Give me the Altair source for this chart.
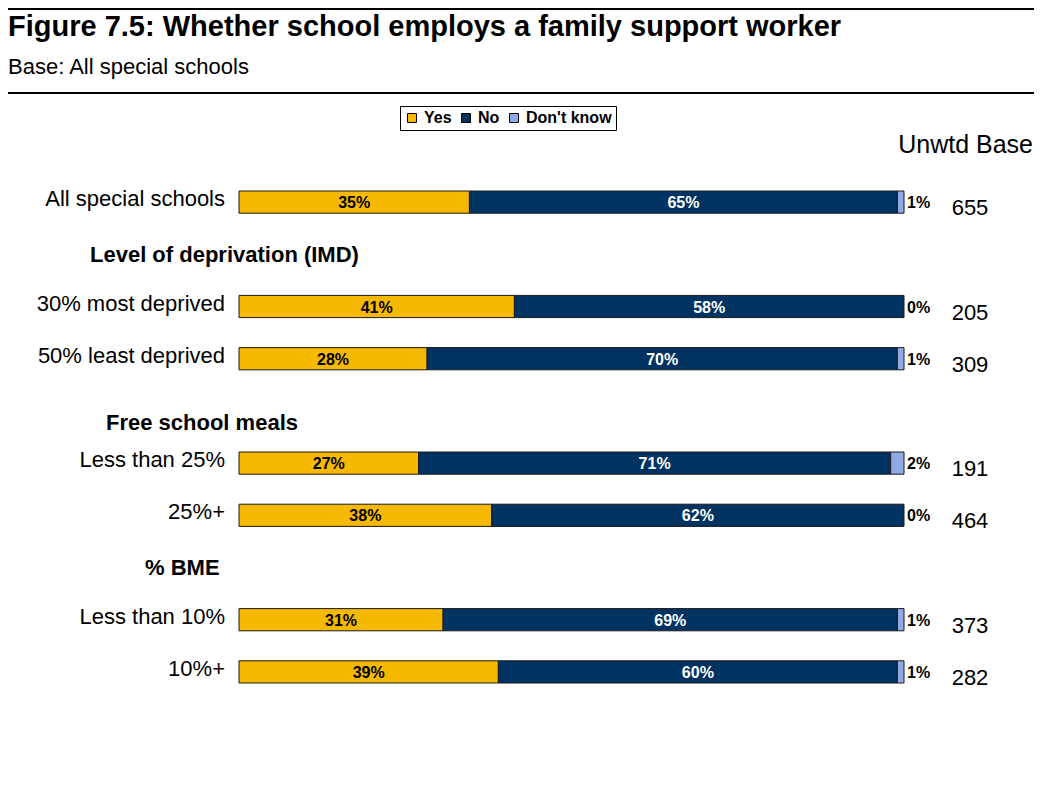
import altair as alt
import pandas as pd

# ---- data ----
groups = ["All special schools", "30% most deprived", "50% least deprived",
          "Less than 25%", "25%+", "Less than 10%", "10%+"]
yes = [35, 41, 28, 27, 38, 31, 39]
no = [65, 58, 70, 71, 62, 69, 60]
dont_know = [1, 0, 1, 2, 0, 1, 1]
unwtd_base = [655, 205, 309, 191, 464, 373, 282]
responses = ["Yes", "No", "Don't know"]
colors = ["#F7B800", "#003361", "#8FA8E6"]
headings = ["Level of deprivation (IMD)", "Free school meals", "% BME"]
title_text = "Figure 7.5: Whether school employs a family support worker"
subtitle_text = "Base: All special schools"

# row order (headings occupy their own rows)
rows = [groups[0], headings[0], groups[1], groups[2], headings[1],
        groups[3], groups[4], headings[2], groups[5], groups[6]]

FONT = "Liberation Sans"

long = pd.DataFrame({
    "group": groups * 3,
    "response": ["Yes"] * 7 + ["No"] * 7 + ["Don't know"] * 7,
    "value": yes + no + dont_know,
    "order": [0] * 7 + [1] * 7 + [2] * 7,
})
basedf = pd.DataFrame({"group": groups, "base": unwtd_base})

W, H = 665, 522
yscale = alt.Scale(domain=rows, paddingInner=30 / 52.2, paddingOuter=15 / 52.2)
xscale = alt.Scale(domain=[0, 1])

base = (
    alt.Chart(long)
    .transform_joinaggregate(total="sum(value)", groupby=["group"])
    .transform_calculate(pct="datum.value / datum.total",
                         label="datum.value + '%'")
    .transform_window(cum="sum(pct)", groupby=["group"],
                      sort=[alt.SortField("order")], frame=[None, 0])
    .transform_calculate(start="datum.cum - datum.pct",
                         mid="datum.cum - datum.pct / 2")
)

Y = alt.Y("group:N", scale=yscale, axis=None)

bars = base.transform_filter("datum.value > 0").mark_bar(
    stroke="#1a1a1a", strokeWidth=1
).encode(
    x=alt.X("start:Q", scale=xscale, axis=None),
    x2="cum:Q",
    y=Y,
    color=alt.Color(
        "response:N",
        scale=alt.Scale(domain=responses, range=colors),
        legend=alt.Legend(
            title=None, orient="none", legendX=161, legendY=-70,
            direction="horizontal", strokeColor="black", fillColor="white",
            padding=4, symbolType="square", symbolSize=81,
            symbolStrokeColor="black", symbolStrokeWidth=1,
            labelFontSize=16, labelFontWeight="bold", labelFont=FONT,
            labelColor="black", labelOffset=4, columnPadding=6,
        ),
    ),
)

yes_lbl = base.transform_filter("datum.response == 'Yes'").mark_text(
    fontSize=16, fontWeight="bold", color="black", baseline="middle", dy=1, font=FONT
).encode(x=alt.X("mid:Q", scale=xscale, axis=None), y=Y, text="label:N")

no_lbl = base.transform_filter("datum.response == 'No'").mark_text(
    fontSize=16, fontWeight="bold", color="white", baseline="middle", dy=1, font=FONT
).encode(x=alt.X("mid:Q", scale=xscale, axis=None), y=Y, text="label:N")

dk_lbl = base.transform_filter("datum.response == \"Don't know\"").mark_text(
    fontSize=16, fontWeight="bold", color="black", baseline="middle", align="left",
    dx=3, dy=1, font=FONT
).encode(x=alt.X("cum:Q", scale=xscale, axis=None), y=Y, text="label:N")

cat_lbl = alt.Chart(basedf).mark_text(
    fontSize=22, align="right", baseline="middle", dy=-3, color="black", font=FONT
).encode(x=alt.value(-14), y=Y, text="group:N")

base_lbl = alt.Chart(basedf).mark_text(
    fontSize=22, align="center", baseline="middle", dy=6, color="black", font=FONT
).encode(x=alt.value(731), y=Y, text="base:Q")

head_layers = []
for txt, hx, hdy in zip(headings, [-149, -133, -94], [1, 12, 0]):
    head_layers.append(
        alt.Chart(pd.DataFrame({"h": [txt]})).mark_text(
            fontSize=22, fontWeight="bold", align="left", baseline="middle",
            dy=hdy, color="black", font=FONT
        ).encode(x=alt.value(hx), y=alt.Y("h:N", scale=yscale, axis=None), text="h:N")
    )

one = pd.DataFrame({"k": [0]})
title = alt.Chart(pd.DataFrame({"t": [title_text]})).mark_text(
    fontSize=29, fontWeight="bold", align="left", baseline="alphabetic", color="black", font=FONT
).encode(x=alt.value(-231), y=alt.value(-140), text="t:N")
subtitle = alt.Chart(pd.DataFrame({"t": [subtitle_text]})).mark_text(
    fontSize=22, align="left", baseline="alphabetic", color="black", font=FONT
).encode(x=alt.value(-231), y=alt.value(-102), text="t:N")
unwtd = alt.Chart(pd.DataFrame({"t": ["Unwtd Base"]})).mark_text(
    fontSize=25, align="right", baseline="alphabetic", color="black", font=FONT
).encode(x=alt.value(794), y=alt.value(-23), text="t:N")

rule_top = alt.Chart(one).mark_rule(color="black", strokeWidth=2).encode(
    x=alt.value(-231), x2=alt.value(795), y=alt.value(-167))
rule_mid = alt.Chart(one).mark_rule(color="black", strokeWidth=2).encode(
    x=alt.value(-231), x2=alt.value(795), y=alt.value(-83))

chart = alt.layer(
    rule_top, rule_mid, title, subtitle, unwtd,
    bars, yes_lbl, no_lbl, dk_lbl, cat_lbl, base_lbl, *head_layers
).properties(
    width=W, height=H,
    padding={"left": 231, "right": 130, "top": 168, "bottom": 90},
    autosize=alt.AutoSizeParams(type="none"),
).configure(font=FONT, background="white").configure_view(stroke=None)

chart.save("out.html", embed_options={"renderer": "svg", "actions": False})
